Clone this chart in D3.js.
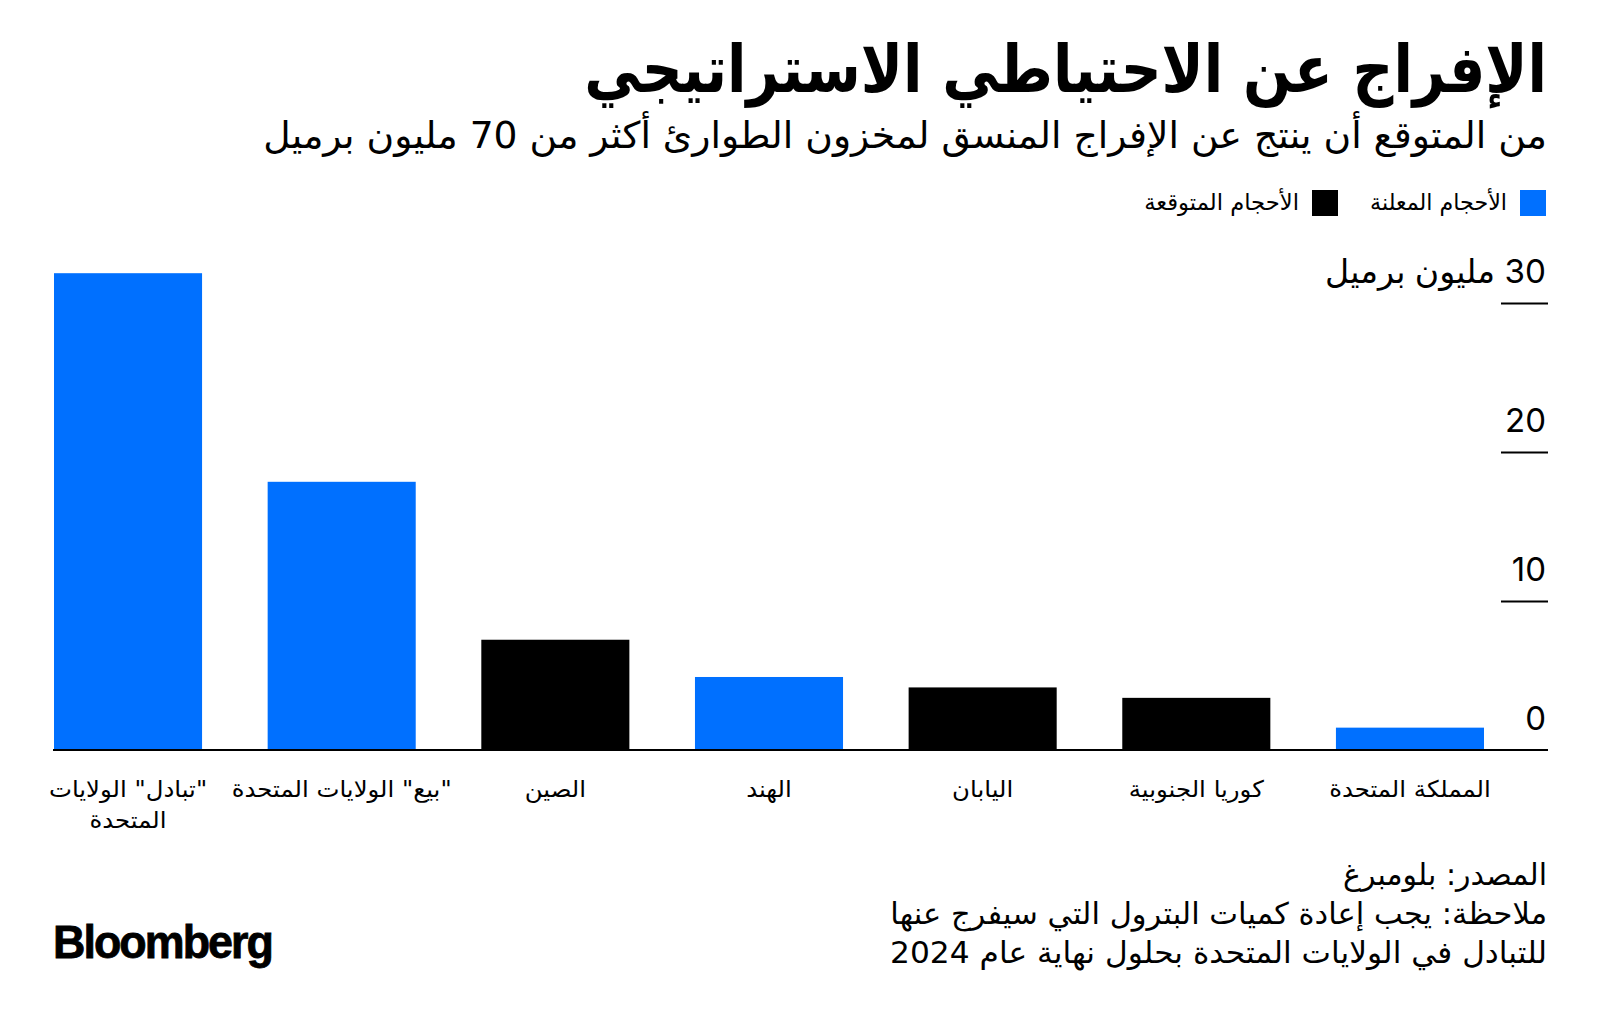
<!DOCTYPE html>
<html><head><meta charset="utf-8">
<script src="https://cdn.jsdelivr.net/npm/d3@7"></script>
<style>body{margin:0;background:#fff} svg{display:block}</style>
</head><body><svg id="c" width="1600" height="1023"></svg>
<script>
// ---- data ----
const categories = ['"تبادل" الولايات\nالمتحدة', '"بيع" الولايات المتحدة', 'الصين', 'الهند', 'اليابان', 'كوريا الجنوبية', 'المملكة المتحدة'];
const values = [32, 18, 7.4, 4.9, 4.2, 3.5, 1.5];
const seriesOf = ['announced', 'announced', 'expected', 'announced', 'expected', 'expected', 'announced'];
const seriesKeys = ['announced', 'expected'];
const seriesLabels = ['الأحجام المعلنة', 'الأحجام المتوقعة'];
const yTicks = [0, 10, 20, 30];
const yUnit = 'مليون برميل';
const titleText = 'الإفراج عن الاحتياطي الاستراتيجي';
const subtitleText = 'من المتوقع أن ينتج عن الإفراج المنسق لمخزون الطوارئ أكثر من 70 مليون برميل';
const footerLines = ['المصدر: بلومبرغ', 'ملاحظة: يجب إعادة كميات البترول التي سيفرج عنها', 'للتبادل في الولايات المتحدة بحلول نهاية عام 2024'];

const AR = '"DejaVu Sans", "Noto Sans", sans-serif';
const NUM = 'Inter, "DejaVu Sans", sans-serif';
const svg = d3.select('#c');

function fitRight(sel, right, width) {
  const b = sel.node().getBBox();
  const s = width ? width / b.width : 1;
  sel.attr('transform', `translate(${right},0) scale(${s},1) translate(${-(b.x + b.width)},0)`);
  return s;
}
function fitLeft(sel, left, width) {
  const b = sel.node().getBBox();
  const s = width ? width / b.width : 1;
  sel.attr('transform', `translate(${left},0) scale(${s},1) translate(${-b.x},0)`);
}

// ---- scales ----
const x = d3.scaleBand().domain(categories).range([54, 1484]).paddingInner(0.307).paddingOuter(0);
const y = d3.scaleLinear().domain([0, 30]).range([750, 303]);
const color = d3.scaleOrdinal().domain(seriesKeys).range(['#0070ff', '#000000']);

// ---- title ----
const t = svg.append('text').attr('x', 0).attr('y', 92).attr('direction', 'rtl')
  .attr('font-family', AR).attr('font-weight', 'bold').attr('font-size', 66).text(titleText);
fitRight(t, 1547, 963);
const st = svg.append('text').attr('x', 0).attr('y', 148).attr('direction', 'rtl')
  .attr('font-family', AR).attr('font-size', 37).text(subtitleText);
fitRight(st, 1547, 1284);

// ---- legend ----
const legendPos = [{sq: 1520, tr: 1507, w: 137}, {sq: 1312, tr: 1299, w: 155}];
seriesKeys.forEach((k, i) => {
  svg.append('rect').attr('x', legendPos[i].sq).attr('y', 190).attr('width', 26).attr('height', 26).attr('fill', color(k));
  const lt = svg.append('text').attr('x', 0).attr('y', 210).attr('direction', 'rtl')
    .attr('font-family', AR).attr('font-size', 23).text(seriesLabels[i]);
  fitRight(lt, legendPos[i].tr, legendPos[i].w);
});

// ---- y axis ----
const yAxis = svg.append('g').attr('transform', 'translate(1548,0)')
  .call(d3.axisLeft(y).tickValues(yTicks).tickSize(47).tickPadding(0)
    .tickFormat(d => d === 30 ? `${d} ${yUnit}` : `${d}`));
yAxis.select('.domain').remove();
yAxis.selectAll('.tick line').attr('stroke', '#000').attr('stroke-width', 2)
  .filter(d => d === 0).remove();
yAxis.selectAll('.tick text').each(function(d) {
  const s = d3.select(this);
  s.attr('x', 0).attr('y', -21).attr('dy', null).attr('direction', 'rtl')
   .attr('font-family', NUM).attr('font-size', 33).attr('fill', '#000').attr('text-anchor', null);
  fitRight(s, -2, d === 30 ? 221 : null);
});

// ---- bars ----
svg.append('g').selectAll('rect').data(categories).join('rect')
  .attr('x', d => x(d)).attr('width', x.bandwidth())
  .attr('y', (d, i) => y(values[i])).attr('height', (d, i) => y(0) - y(values[i]))
  .attr('fill', (d, i) => color(seriesOf[i]));

// baseline
svg.append('line').attr('x1', 53).attr('x2', 1548).attr('y1', 750).attr('y2', 750)
  .attr('stroke', '#000').attr('stroke-width', 2);

// ---- x axis labels ----
const xAxis = svg.append('g').attr('transform', 'translate(0,750)')
  .call(d3.axisBottom(x).tickSize(0).tickFormat(''));
xAxis.select('.domain').remove();
xAxis.selectAll('.tick').each(function(d) {
  const g = d3.select(this);
  g.select('text').remove();
  const txt = g.append('text').attr('font-family', AR).attr('font-size', 23)
    .attr('fill', '#000').attr('text-anchor', 'middle').attr('direction', 'rtl');
  d.split('\n').forEach((line, li) => {
    txt.append('tspan').attr('x', 0).attr('y', 47 + li * 31).text(line);
  });
});
const ref = xAxis.selectAll('.tick text').filter(d => d === categories[1]).node().getBBox();
const labScale = 220 / ref.width;
xAxis.selectAll('.tick text').each(function() {
  const b = this.getBBox();
  const c = b.x + b.width / 2;
  d3.select(this).attr('transform', `translate(${c},0) scale(${labScale},1) translate(${-c},0)`);
});

// ---- footer ----
const fw = [204, 657, 657];
const fy = [885, 924, 963];
footerLines.forEach((l, i) => {
  const ft = svg.append('text').attr('x', 0).attr('y', fy[i]).attr('direction', 'rtl')
    .attr('font-family', AR).attr('font-size', 30).text(l);
  fitRight(ft, 1547, fw[i]);
});

// ---- logo ----
const logo = svg.append('text').attr('x', 0).attr('y', 958).attr('font-family', '"Liberation Sans", Arial, sans-serif')
  .attr('font-weight', 'bold').attr('font-size', 46).attr('letter-spacing', -2).attr('stroke', '#000').attr('stroke-width', 0.8).text('Bloomberg');
fitLeft(logo, 53, 219);
</script></body></html>
